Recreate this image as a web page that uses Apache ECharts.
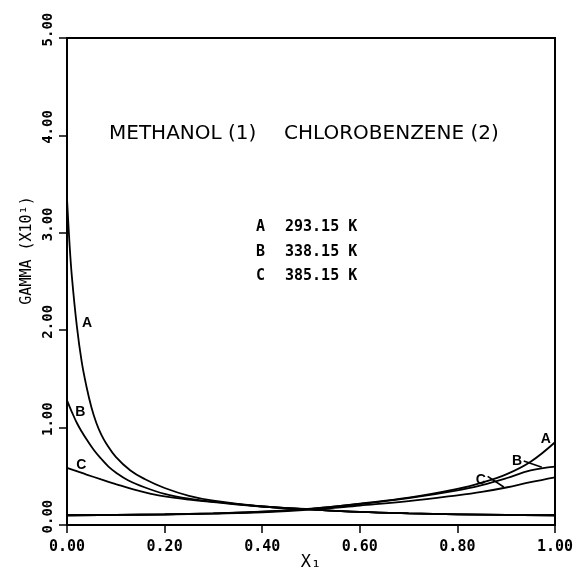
<!DOCTYPE html>
<html>
<head>
<meta charset="utf-8">
<script src="https://cdn.jsdelivr.net/npm/echarts@6/dist/echarts.min.js"></script>
<style>html,body{margin:0;padding:0;background:#fff}#c{width:585px;height:571px}</style>
</head>
<body>
<div id="c"></div>
<script>
// gamma1 (methanol) curves, descending
var xA1 = [0, 0.005, 0.01, 0.02, 0.03, 0.04, 0.05, 0.06, 0.07, 0.08, 0.1, 0.13, 0.16, 0.2, 0.25, 0.3, 0.4, 0.5, 0.6, 0.7, 0.8, 0.9, 1.0];
var gA1 = [3.35, 2.9, 2.55, 2.05, 1.68, 1.42, 1.21, 1.05, 0.93, 0.84, 0.70, 0.56, 0.47, 0.38, 0.30, 0.25, 0.19, 0.16, 0.135, 0.12, 0.11, 0.103, 0.10];
var xB1 = [0, 0.01, 0.02, 0.03, 0.04, 0.055, 0.07, 0.085, 0.1, 0.125, 0.16, 0.2, 0.25, 0.3, 0.4, 0.5, 0.6, 0.7, 0.8, 0.9, 1.0];
var gB1 = [1.28, 1.16, 1.05, 0.96, 0.88, 0.77, 0.68, 0.60, 0.54, 0.46, 0.385, 0.32, 0.27, 0.238, 0.19, 0.16, 0.135, 0.12, 0.11, 0.103, 0.10];
var xC1 = [0, 0.02, 0.04, 0.07, 0.1, 0.136, 0.17, 0.2, 0.25, 0.3, 0.4, 0.5, 0.6, 0.7, 0.8, 0.9, 1.0];
var gC1 = [0.587, 0.553, 0.518, 0.468, 0.42, 0.365, 0.323, 0.293, 0.26, 0.235, 0.19, 0.16, 0.135, 0.12, 0.11, 0.103, 0.10];
// gamma2 (chlorobenzene) curves, ascending
var x2 = [0, 0.1, 0.2, 0.3, 0.4, 0.5, 0.6, 0.7, 0.8, 0.85, 0.9, 0.95, 1.0];
var gA2 = [0.1, 0.104, 0.11, 0.12, 0.137, 0.168, 0.22, 0.28, 0.37, 0.435, 0.52, 0.65, 0.85];
var gB2 = [0.1, 0.104, 0.11, 0.12, 0.136, 0.166, 0.215, 0.275, 0.355, 0.41, 0.48, 0.56, 0.60];
var gC2 = [0.1, 0.103, 0.108, 0.117, 0.13, 0.157, 0.20, 0.245, 0.305, 0.34, 0.385, 0.44, 0.49];

var xTicks = [0, 0.2, 0.4, 0.6, 0.8, 1.0];
var yTicks = [0, 1, 2, 3, 4, 5];

var legendLetters = ['A', 'B', 'C'];
var legendTemps = ['293.15 K', '338.15 K', '385.15 K'];

// curve label anchors in data coordinates
var curveLabels = [
  {t: 'A', x: 0.041, y: 2.07}, {t: 'B', x: 0.027, y: 1.16}, {t: 'C', x: 0.029, y: 0.615},
  {t: 'A', x: 0.981, y: 0.88}, {t: 'B', x: 0.922, y: 0.656}, {t: 'C', x: 0.848, y: 0.46}
];
var leaders = [
  [[0.936, 0.656], [0.973, 0.594]],
  [[0.862, 0.50], [0.895, 0.39]]
];

function pairs(xs, ys) { return xs.map(function (x, i) { return [x, ys[i]]; }); }
function line(name, xs, ys) {
  return {
    name: name, type: 'line', data: pairs(xs, ys), showSymbol: false, symbol: 'none',
    smooth: 0.4,
    lineStyle: {color: '#000', width: 1.8}, silent: true, animation: false
  };
}

var chart = echarts.init(document.getElementById('c'), null, {renderer: 'canvas'});
var monoFont = 'DejaVu Sans Mono';
chart.setOption({
  backgroundColor: '#fff',
  animation: false,
  title: [
    {text: 'METHANOL (1)', left: 104, top: 119, textStyle: {fontFamily: 'DejaVu Sans', fontSize: 20, fontWeight: 'normal', color: '#000'}},
    {text: 'CHLOROBENZENE (2)', left: 279, top: 119, textStyle: {fontFamily: 'DejaVu Sans', fontSize: 20, fontWeight: 'normal', color: '#000'}}
  ],
  grid: {left: 67, right: 30, top: 38, bottom: 46, containLabel: false, outerBoundsMode: 'none', show: true, borderColor: '#000', borderWidth: 2, backgroundColor: 'transparent'},
  xAxis: {
    type: 'value', min: 0, max: 1, interval: 0.2,
    name: 'X\u2081', nameLocation: 'middle', nameGap: 29, nameMoveOverlap: false,
    nameTextStyle: {fontFamily: monoFont, fontSize: 17, color: '#000'},
    axisLine: {show: true, lineStyle: {color: '#000', width: 2}},
    axisTick: {show: true, length: 8, inside: false, lineStyle: {color: '#000', width: 1.5}},
    axisLabel: {formatter: function (v) { return v.toFixed(2); }, fontFamily: monoFont, fontSize: 15, fontWeight: 'bold', color: '#000', margin: 15},
    splitLine: {show: false}
  },
  yAxis: {
    type: 'value', min: 0, max: 5, interval: 1,
    name: 'GAMMA (X10\u00b9)', nameLocation: 'middle', nameGap: 32, nameMoveOverlap: false,
    nameTextStyle: {fontFamily: monoFont, fontSize: 15, color: '#000', padding: [0, 0, 0, 62]},
    axisLine: {show: true, lineStyle: {color: '#000', width: 2}},
    axisTick: {show: true, length: 8, inside: false, lineStyle: {color: '#000', width: 1.5}},
    axisLabel: {rotate: 90, formatter: function (v) { return '  ' + v.toFixed(2); }, fontFamily: monoFont, fontSize: 14, fontWeight: 'bold', color: '#000', margin: 12, align: 'center', verticalAlign: 'bottom'},
    splitLine: {show: false}
  },
  series: [
    line('A1', xA1, gA1), line('B1', xB1, gB1), line('C1', xC1, gC1),
    line('A2', x2, gA2), line('B2', x2, gB2), line('C2', x2, gC2)
  ]
});

var g = [];
legendLetters.forEach(function (l, i) {
  g.push({type: 'text', left: 256, top: 220 + i * 24.5, style: {text: l, font: 'bold 15px "DejaVu Sans Mono"', fill: '#000'}});
  g.push({type: 'text', left: 285, top: 220 + i * 24.5, style: {text: legendTemps[i], font: 'bold 15px "DejaVu Sans Mono"', fill: '#000'}});
});
curveLabels.forEach(function (c) {
  var p = chart.convertToPixel({gridIndex: 0}, [c.x, c.y]);
  g.push({type: 'text', x: p[0] - 5, y: p[1] - 7, style: {text: c.t, font: 'bold 14px "Liberation Sans"', fill: '#000', align: 'left', verticalAlign: 'top'}});
});
leaders.forEach(function (ld) {
  var a = chart.convertToPixel({gridIndex: 0}, ld[0]);
  var b = chart.convertToPixel({gridIndex: 0}, ld[1]);
  g.push({type: 'line', shape: {x1: a[0], y1: a[1], x2: b[0], y2: b[1]}, style: {stroke: '#000', lineWidth: 1.6}});
});
chart.setOption({graphic: g});
</script>
</body>
</html>
